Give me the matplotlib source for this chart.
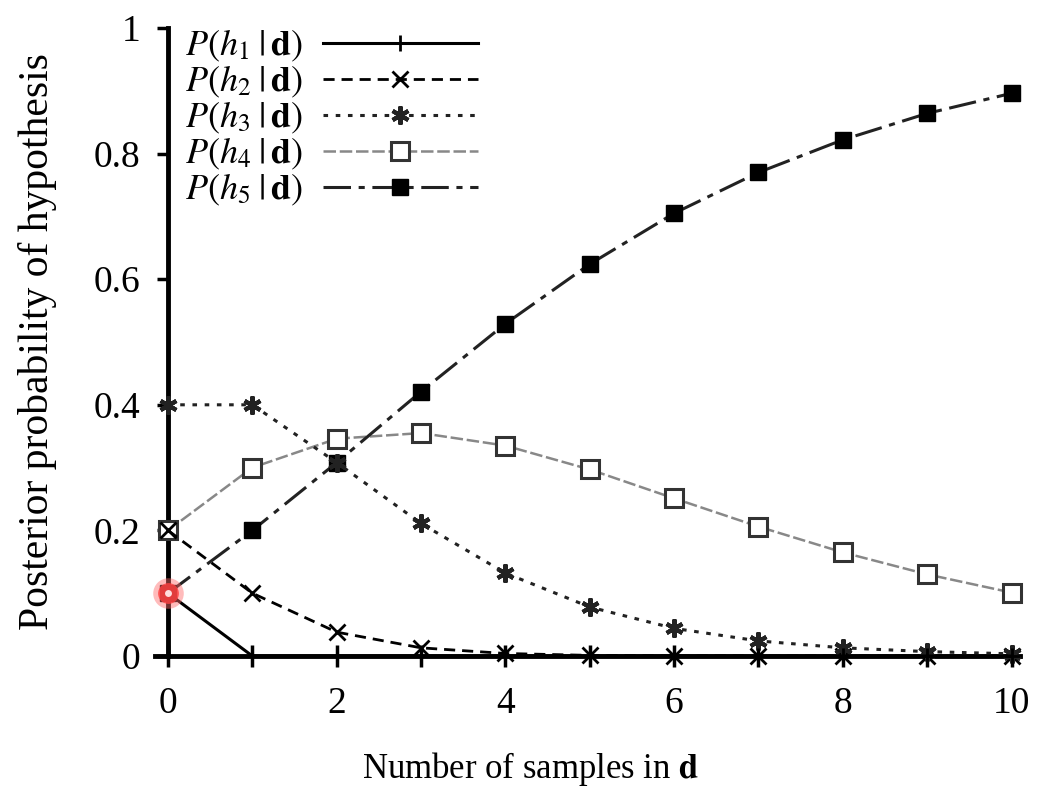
import matplotlib
matplotlib.use("Agg")
import matplotlib.pyplot as plt

n_samples = [0, 1, 2, 3, 4, 5, 6, 7, 8, 9, 10]
p_h1 = [0.10, 0.0, 0.0, 0.0, 0.0, 0.0, 0.0, 0.0, 0.0, 0.0, 0.0]
p_h2 = [0.20, 0.10, 0.038, 0.013, 0.004, 0.001, 0.0003, 0.0001, 0.0, 0.0, 0.0]
p_h3 = [0.40, 0.40, 0.308, 0.211, 0.132, 0.078, 0.044, 0.024, 0.013, 0.007, 0.0035]
p_h4 = [0.20, 0.30, 0.346, 0.355, 0.335, 0.297, 0.251, 0.206, 0.165, 0.130, 0.101]
p_h5 = [0.10, 0.20, 0.308, 0.421, 0.529, 0.624, 0.705, 0.770, 0.822, 0.864, 0.896]
labels = [r'$P(h_1\;|\,\mathbf{d})$', r'$P(h_2\;|\,\mathbf{d})$', r'$P(h_3\;|\,\mathbf{d})$',
          r'$P(h_4\;|\,\mathbf{d})$', r'$P(h_5\;|\,\mathbf{d})$']
xtick_vals = list(range(11))
xtick_labels = ['0', '', '2', '', '4', '', '6', '', '8', '', '10']
ytick_vals = [0, 0.2, 0.4, 0.6, 0.8, 1.0]
ytick_labels = ['0', '0.2', '0.4', '0.6', '0.8', '1']

plt.rcParams['font.family'] = ['Liberation Serif', 'DejaVu Serif']
plt.rcParams['mathtext.fontset'] = 'stix'

fig = plt.figure(figsize=(10.4, 8.08), dpi=100)
ax = fig.add_axes([168/1040, 152/808, (1020-168)/1040, (780-152)/808])

ax.plot(n_samples, p_h1, color='black', lw=2.2, marker='+', ms=12, mew=2,
        label=labels[0], clip_on=False, zorder=5)
ax.plot(n_samples, p_h2, color='black', lw=2, linestyle=(0, (4, 2.5)), marker='x', ms=11, mew=2,
        label=labels[1], clip_on=False, zorder=4)
ax.plot(n_samples, p_h3, color='#222222', lw=2.2, linestyle=(0, (1.5, 2.5)), marker=(6, 2, 0), ms=13, mew=3,
        label=labels[2], clip_on=False, zorder=4)
ax.plot(n_samples, p_h4, color='#888888', lw=1.8, linestyle=(0, (5, 1.5)), marker='s', ms=13, mew=2.2,
        mfc='white', mec='#333333', label=labels[3], clip_on=False, zorder=3)
ax.plot(n_samples, p_h5, color='#222222', lw=2.2, linestyle=(0, (9, 2.5, 2, 2.5)), marker='s', ms=12,
        mfc='black', mec='black', label=labels[4], clip_on=False, zorder=3)

# red highlight on first point of h1
ax.plot(n_samples[0], p_h1[0], 'o', ms=22, color='#ff6a6a', alpha=0.45, mec='none', clip_on=False, zorder=6)
ax.plot(n_samples[0], p_h1[0], 'o', ms=15, color='#ff4040', alpha=0.8, mec='none', clip_on=False, zorder=6)
ax.plot(n_samples[0], p_h1[0], 'o', ms=5, color='#ffdddd', mec='none', clip_on=False, zorder=7)

ax.set_xlim(0, 10.1)
ax.set_ylim(0, 1.0)
ax.spines['top'].set_visible(False)
ax.spines['right'].set_visible(False)
ax.spines['left'].set_linewidth(3.5)
ax.spines['bottom'].set_linewidth(3.5)
ax.spines['bottom'].set_bounds(-0.15, 10.1)

ax.set_xticks(xtick_vals)
ax.set_xticklabels(xtick_labels)
ax.set_yticks(ytick_vals)
ax.set_yticklabels(ytick_labels)
ax.tick_params(axis='x', direction='inout', length=16, width=2.5, labelsize=27, pad=14)
ax.tick_params(axis='y', direction='out', length=8, width=2.5, labelsize=27, pad=12)

ax.set_xlabel(r'Number of samples in $\mathbf{d}$', fontsize=25)
ax.xaxis.set_label_coords(0.425, -0.15)
ax.set_ylabel('Posterior probability of hypothesis', fontsize=30)
ax.yaxis.set_label_coords(-0.13, 0.5)

leg = ax.legend(loc='upper left', bbox_to_anchor=(0.02, 1.0), frameon=False, markerfirst=False,
                fontsize=26, handlelength=4.3, handletextpad=0.55, labelspacing=0.0,
                borderaxespad=0.0, borderpad=0.0)

fig.savefig('out.png', dpi=100, facecolor='white')
